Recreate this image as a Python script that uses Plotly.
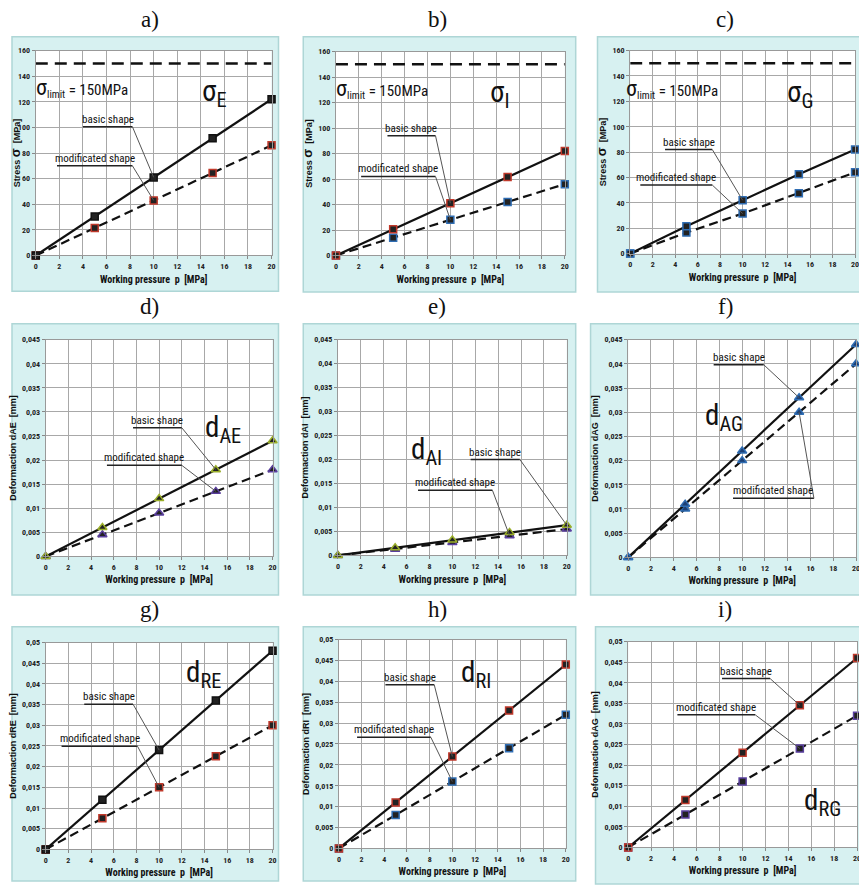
import plotly.graph_objects as go

W, H = 867, 891
OFF = 8  # default page body margin of the html page

# ---------------- data ----------------
pressure = [0, 5, 10, 15, 20]

sigmaE_basic = [0, 30.5, 61, 91.5, 122]
sigmaE_mod = [0, 21.5, 43, 64.5, 86]
sigmaI_basic = [0, 20.5, 41, 61.5, 82]
sigmaI_mod = [0, 14, 28, 42, 56]
sigmaG_basic = [0, 21.5, 42, 62.5, 82]
sigmaG_mod = [0, 16.5, 31.5, 47.5, 64]

dAE_basic = [0, 0.006, 0.012, 0.018, 0.024]
dAE_mod = [0, 0.0045, 0.009, 0.0135, 0.018]
dAI_basic = [0, 0.0016, 0.0032, 0.0048, 0.0063]
dAI_mod = [0, 0.0013, 0.0027, 0.0041, 0.0055]
dAG_basic = [0, 0.011, 0.022, 0.033, 0.044]
dAG_mod = [0, 0.010, 0.020, 0.030, 0.040]

dRE_basic = [0, 0.012, 0.024, 0.036, 0.048]
dRE_mod = [0, 0.0075, 0.015, 0.0225, 0.030]
dRI_basic = [0, 0.011, 0.022, 0.033, 0.044]
dRI_mod = [0, 0.008, 0.016, 0.024, 0.032]
dRG_basic = [0, 0.0115, 0.023, 0.0345, 0.046]
dRG_mod = [0, 0.008, 0.016, 0.024, 0.032]

sigma_limit = 150

x_ticks = [0, 2, 4, 6, 8, 10, 12, 14, 16, 18, 20]
stress_ticks = [0, 20, 40, 60, 80, 100, 120, 140, 160]
def_ticks_045 = [0, 0.005, 0.01, 0.015, 0.02, 0.025, 0.03, 0.035, 0.04, 0.045]
def_text_045 = ["0", "0,005", "0,01", "0,015", "0,02", "0,025", "0,03", "0,035", "0,04", "0,045"]
def_ticks_05 = def_ticks_045 + [0.05]
def_text_05 = def_text_045 + ["0,05"]

panel_labels = ["a)", "b)", "c)", "d)", "e)", "f)", "g)", "h)", "i)"]

# ---------------- style / layout config ----------------
NARROW = "Liberation Sans Narrow, Arial Narrow, Roboto Condensed, Arial, sans-serif"
SERIF = "Liberation Serif, Times New Roman, serif"
RED, BLUE, BLK, YG, PUR = "#c0392b", "#2f6db3", "#111111", "#9aae2a", "#5a3f9e"

stress_title = "<b>Stress <span style='font-size:13px'>σ</span>  [MPa]</b>"

panels = [
    dict(basic=sigmaE_basic, mod=sigmaE_mod, yt=stress_ticks, ytt=[str(v) for v in stress_ticks], yr=[0, 160],
         ytitle=stress_title, sym="square", bc=BLK, mc=RED, mfill="#222",
         plot=(32, 270, 47, 254), box=(5, 277, 33, 290),
         name="σ<sub>E</sub>", name_xy=(15.2, 127), limit=True, lim_xy=(3.9, 131),
         callouts=[("basic shape", 4.0, 8.2, 100.5, "basic", 2),
                   ("modificated shape", 1.8, 8.2, 70, "mod", 2)]),
    dict(basic=sigmaI_basic, mod=sigmaI_mod, yt=stress_ticks, ytt=[str(v) for v in stress_ticks], yr=[0, 160],
         ytitle=stress_title, sym="square", bc=RED, mc=BLUE, mfill="#222",
         plot=(335, 566, 48, 254), box=(302, 577, 33, 291),
         name="σ<sub>I</sub>", name_xy=(14.3, 127), limit=True, lim_xy=(4.0, 131),
         callouts=[("basic shape", 4.5, 8.7, 94, "basic", 2),
                   ("modificated shape", 2.2, 8.7, 62, "mod", 2)]),
    dict(basic=sigmaG_basic, mod=sigmaG_mod, yt=stress_ticks, ytt=[str(v) for v in stress_ticks], yr=[0, 160],
         ytitle=stress_title, sym="square", bc=BLUE, mc=BLUE, mfill="#222",
         plot=(632, 859, 47, 252), box=(599, 866, 33, 291),
         name="σ<sub>G</sub>", name_xy=(15.1, 126), limit=True, lim_xy=(3.7, 130),
         callouts=[("basic shape", 3.1, 7.3, 82, "basic", 2),
                   ("modificated shape", 0.9, 7.3, 54, "mod", 2)]),
    dict(basic=dAE_basic, mod=dAE_mod, yt=def_ticks_045, ytt=def_text_045, yr=[0, 0.045],
         ytitle="<b>Deformaction dAE  [mm]</b>", sym="triangle-up", bc=YG, mc=PUR, mfill="#222",
         plot=(42, 271, 339, 558), box=(7, 277, 323, 597),
         name="d<sub>AE</sub>", name_xy=(15.6, 0.0265), limit=False,
         callouts=[("basic shape", 7.7, 12.0, 0.0267, "basic", 3),
                   ("modificated shape", 5.4, 12.0, 0.0189, "mod", 3)]),
    dict(basic=dAI_basic, mod=dAI_mod, yt=def_ticks_045, ytt=def_text_045, yr=[0, 0.045],
         ytitle="<b>Deformaction dAI  [mm]</b>", sym="triangle-up", bc=YG, mc=PUR, mfill="#222",
         plot=(337, 568, 339, 557), box=(302, 577, 323, 597),
         name="d<sub>AI</sub>", name_xy=(7.7, 0.0218), limit=False,
         callouts=[("basic shape", 11.6, 15.9, 0.0200, "basic", 4),
                   ("modificated shape", 7.0, 13.5, 0.0136, "mod", 3)]),
    dict(basic=dAG_basic, mod=dAG_mod, yt=def_ticks_045, ytt=def_text_045, yr=[0, 0.045],
         ytitle="<b>Deformaction dAG  [mm]</b>", sym="triangle-up", bc=BLUE, mc=BLUE, mfill="#1d3f73",
         plot=(630, 860, 339, 559), box=(592, 866, 323, 597),
         name="d<sub>AG</sub>", name_xy=(8.4, 0.029), limit=False,
         callouts=[("basic shape", 7.5, 11.9, 0.0398, "basic", 3),
                   ("modificated shape", 9.2, 16.3, 0.0122, "mod", 3)]),
    dict(basic=dRE_basic, mod=dRE_mod, yt=def_ticks_05, ytt=def_text_05, yr=[0, 0.05],
         ytitle="<b>Deformaction dRE  [mm]</b>", sym="square", bc=BLK, mc=RED, mfill="#222",
         plot=(42, 271, 645, 854), box=(5, 277, 629, 886),
         name="d<sub>RE</sub>", name_xy=(13.9, 0.0423), limit=False,
         callouts=[("basic shape", 3.4, 7.7, 0.0351, "basic", 2),
                   ("modificated shape", 1.4, 8.1, 0.0249, "mod", 2)]),
    dict(basic=dRI_basic, mod=dRI_mod, yt=def_ticks_05, ytt=def_text_05, yr=[0, 0.05],
         ytitle="<b>Deformaction dRI  [mm]</b>", sym="square", bc=RED, mc=BLUE, mfill="#222",
         plot=(338, 567, 642, 853), box=(302, 577, 629, 886),
         name="d<sub>RI</sub>", name_xy=(12.1, 0.0418), limit=False,
         callouts=[("basic shape", 4.1, 8.4, 0.0392, "basic", 2),
                   ("modificated shape", 1.6, 8.1, 0.0266, "mod", 2)]),
    dict(basic=dRG_basic, mod=dRG_mod, yt=def_ticks_05, ytt=def_text_05, yr=[0, 0.05],
         ytitle="<b>Deformaction dAG  [mm]</b>", sym="square", bc=RED, mc=PUR, mfill="#222",
         plot=(630, 861, 644, 852), box=(597, 866, 629, 889),
         name="d<sub>RG</sub>", name_xy=(17.0, 0.0110), limit=False,
         callouts=[("basic shape", 8.2, 12.4, 0.0410, "basic", 3),
                   ("modificated shape", 4.3, 11.1, 0.0322, "mod", 3)]),
]

label_pos = [(147, 16), (437, 16), (728, 16), (147, 306), (437, 306), (728, 306), (147, 612), (437, 612), (728, 612)]

FW, FH = W - OFF, H - OFF


def fx(px):
    return (px - OFF) / FW


def fy(py):
    return 1 - (py - OFF) / FH


fig = go.Figure()
shapes = []
annotations = []
layout_axes = {}

for i, p in enumerate(panels):
    n = i + 1
    xa = "x" if n == 1 else f"x{n}"
    ya = "y" if n == 1 else f"y{n}"
    xkey = "xaxis" if n == 1 else f"xaxis{n}"
    ykey = "yaxis" if n == 1 else f"yaxis{n}"
    x0, x1, y0, y1 = p["plot"]
    bx0, bx1, by0, by1 = p["box"]

    shapes.append(dict(type="rect", xref="paper", yref="paper", x0=max(fx(bx0), 0), x1=min(fx(bx1), 1),
                       y0=max(fy(by1), 0), y1=fy(by0),
                       fillcolor="#d7f1f1", line=dict(color="#aed6d6", width=1.5), layer="below"))
    shapes.append(dict(type="rect", xref="paper", yref="paper", x0=fx(x0), x1=fx(x1), y0=fy(y1), y1=fy(y0),
                       fillcolor="white", line=dict(width=0), layer="below"))

    layout_axes[xkey] = dict(domain=[fx(x0), fx(x1)], anchor=ya, range=[0, 20], tickvals=x_ticks,
                             ticktext=[str(v) for v in x_ticks],
                             showgrid=True, gridcolor="#a8a8a8", gridwidth=1, zeroline=False,
                             showline=True, linecolor="#999", mirror=True, ticks="outside", ticklen=3,
                             tickcolor="#888",
                             tickfont=dict(family=NARROW, size=8, color="#222", weight="bold"),
                             title=dict(text="<b>Working pressure  p  [MPa]</b>", standoff=5,
                                        font=dict(family=NARROW, size=10, color="#111")))
    layout_axes[ykey] = dict(domain=[fy(y1), fy(y0)], anchor=xa, range=p["yr"], tickvals=p["yt"],
                             ticktext=p["ytt"],
                             showgrid=True, gridcolor="#a8a8a8", gridwidth=1, zeroline=False,
                             showline=True, linecolor="#999", mirror=True, ticks="outside", ticklen=3,
                             tickcolor="#888",
                             tickfont=dict(family=NARROW, size=8, color="#222", weight="bold"),
                             title=dict(text=p["ytitle"], standoff=4,
                                        font=dict(family="Liberation Sans, Arial, sans-serif", size=9, color="#111")))

    msize = 7 if p["sym"] == "square" else 8
    fig.add_trace(go.Scatter(x=pressure, y=p["mod"], xaxis=xa, yaxis=ya, mode="lines+markers",
                             line=dict(color="#111", width=2.2, dash="9px,5px"),
                             marker=dict(symbol=p["sym"], size=msize, color=p["mfill"],
                                         line=dict(color=p["mc"], width=1.5)),
                             showlegend=False, hoverinfo="skip", cliponaxis=False))
    fig.add_trace(go.Scatter(x=pressure, y=p["basic"], xaxis=xa, yaxis=ya, mode="lines+markers",
                             line=dict(color="#111", width=2.2),
                             marker=dict(symbol=p["sym"], size=msize, color=p["mfill"],
                                         line=dict(color=p["bc"], width=1.5)),
                             showlegend=False, hoverinfo="skip", cliponaxis=False))
    if p["limit"]:
        fig.add_trace(go.Scatter(x=[0, 20], y=[sigma_limit, sigma_limit], xaxis=xa, yaxis=ya, mode="lines",
                                 line=dict(color="#111", width=2.5, dash="12px,7px"),
                                 showlegend=False, hoverinfo="skip"))
        annotations.append(dict(xref=xa, yref=ya, x=p["lim_xy"][0], y=p["lim_xy"][1], showarrow=False,
                                xanchor="center", yanchor="middle",
                                text="<span style='font-size:22px'>σ</span><sub>limit</sub> = 150MPa",
                                font=dict(family=NARROW, size=15, color="#111")))

    annotations.append(dict(xref=xa, yref=ya, x=p["name_xy"][0], y=p["name_xy"][1], showarrow=False,
                            xanchor="center", yanchor="middle",
                            text=p["name"], font=dict(family=NARROW, size=29, color="#111")))

    for (txt, lx0, lx1, ly, ser, idx) in p["callouts"]:
        annotations.append(dict(xref=xa, yref=ya, x=(lx0 + lx1) / 2, y=ly, showarrow=False,
                                xanchor="center", yanchor="bottom", borderpad=0,
                                text=txt, font=dict(family=NARROW, size=11, color="#111")))
        shapes.append(dict(type="line", xref=xa, yref=ya, x0=lx0, x1=lx1, y0=ly, y1=ly,
                           line=dict(color="#222", width=1.5)))
        target = p["basic"] if ser == "basic" else p["mod"]
        shapes.append(dict(type="line", xref=xa, yref=ya, x0=lx1, x1=pressure[idx], y0=ly, y1=target[idx],
                           line=dict(color="#555", width=1)))

for lbl, (px, py) in zip(panel_labels, label_pos):
    annotations.append(dict(xref="paper", yref="paper", x=fx(px), y=fy(py), showarrow=False,
                            xanchor="center", yanchor="middle",
                            text=lbl, font=dict(family=SERIF, size=23, color="#111")))

fig.update_layout(width=FW, height=FH, margin=dict(l=0, r=0, t=0, b=0),
                  paper_bgcolor="white", plot_bgcolor="rgba(0,0,0,0)",
                  shapes=shapes, annotations=annotations, **layout_axes)

fig.write_html("out.html")
